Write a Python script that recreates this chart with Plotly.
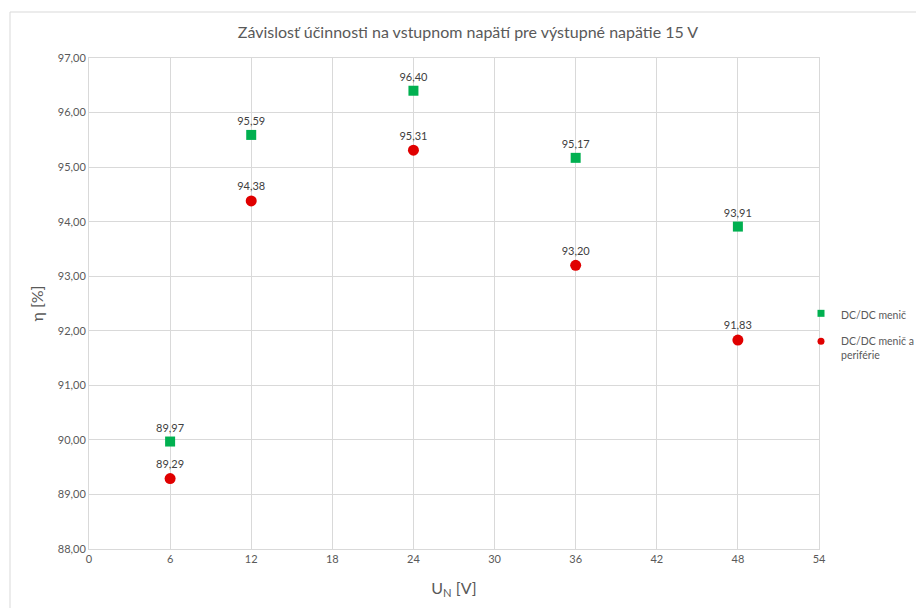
import plotly.graph_objects as go

x_vals = [6, 12, 24, 36, 48]
eff_dcdc = [89.97, 95.59, 96.40, 95.17, 93.91]
eff_dcdc_periph = [89.29, 94.38, 95.31, 93.20, 91.83]
name_dcdc = "DC/DC menič"
name_periph = "DC/DC menič a<br>periférie"
title_text = "Závislosť účinnosti na vstupnom napätí pre výstupné napätie 15 V"

FONT = "Lato"
TXT = "#595959"
GREEN = "#00B050"
RED = "#E00000"

def fmt(v):
    return f"{v:.2f}".replace(".", ",")

fig = go.Figure()
fig.add_trace(go.Scatter(
    x=x_vals, y=eff_dcdc, mode="markers+text", name=name_dcdc, showlegend=False,
    marker=dict(symbol="square", size=10, color=GREEN),
    text=[fmt(v) for v in eff_dcdc], textposition="top center",
    textfont=dict(size=11, color="#404040", family=FONT),
))
fig.add_trace(go.Scatter(
    x=x_vals, y=eff_dcdc_periph, mode="markers+text", name=name_periph, showlegend=False,
    marker=dict(symbol="circle", size=11, color=RED),
    text=[fmt(v) for v in eff_dcdc_periph], textposition="top center",
    textfont=dict(size=11, color="#404040", family=FONT),
))
# legend-only entries with small symbols, as in the reference
fig.add_trace(go.Scatter(x=[None], y=[None], mode="markers", name=name_dcdc, legendgroup="a",
                         marker=dict(symbol="square", size=7, color=GREEN)))
fig.add_trace(go.Scatter(x=[None], y=[None], mode="markers", name=name_periph, legendgroup="b",
                         marker=dict(symbol="circle", size=7, color=RED)))

fig.update_layout(
    width=916, height=608,
    margin=dict(l=89, r=97, t=58, b=59, autoexpand=False),
    paper_bgcolor="white", plot_bgcolor="white",
    separators=",.",
    font=dict(family=FONT, color=TXT, size=11),
    title=dict(text=title_text, x=468/916, xanchor="center", y=1-32/608, yanchor="middle",
               font=dict(size=16, color=TXT, family=FONT)),
    xaxis=dict(range=[0, 54], dtick=6, tick0=0, showgrid=True, gridcolor="#D9D9D9",
               zeroline=False, showline=True, linecolor="#D9D9D9", mirror=True,
               ticks="", tickfont=dict(size=11, color=TXT),
               title=dict(text="U<sub>N</sub> [V]", font=dict(size=16, color=TXT), standoff=18)),
    yaxis=dict(range=[88, 97], dtick=1, showgrid=True, gridcolor="#D9D9D9",
               zeroline=False, showline=True, linecolor="#D9D9D9", mirror=True,
               ticks="", tickformat=".2f", tickfont=dict(size=11, color=TXT),
               title=dict(text="η [%]", font=dict(size=16, color=TXT), standoff=10)),
    legend=dict(xref="container", yref="container", x=801/916, y=1-300/608,
                xanchor="left", yanchor="top", valign="top",
                font=dict(size=10.5, color=TXT), bgcolor="rgba(0,0,0,0)",
                itemwidth=30, tracegroupgap=9),
    showlegend=True,
    shapes=[dict(type="rect", xref="paper", yref="paper",
                 x0=(10-89)/730, x1=1.3, y0=-0.3, y1=(549-12)/491,
                 line=dict(color="#D9D9D9", width=1), fillcolor="rgba(0,0,0,0)", layer="below")],
)

fig.write_html("out.html")
